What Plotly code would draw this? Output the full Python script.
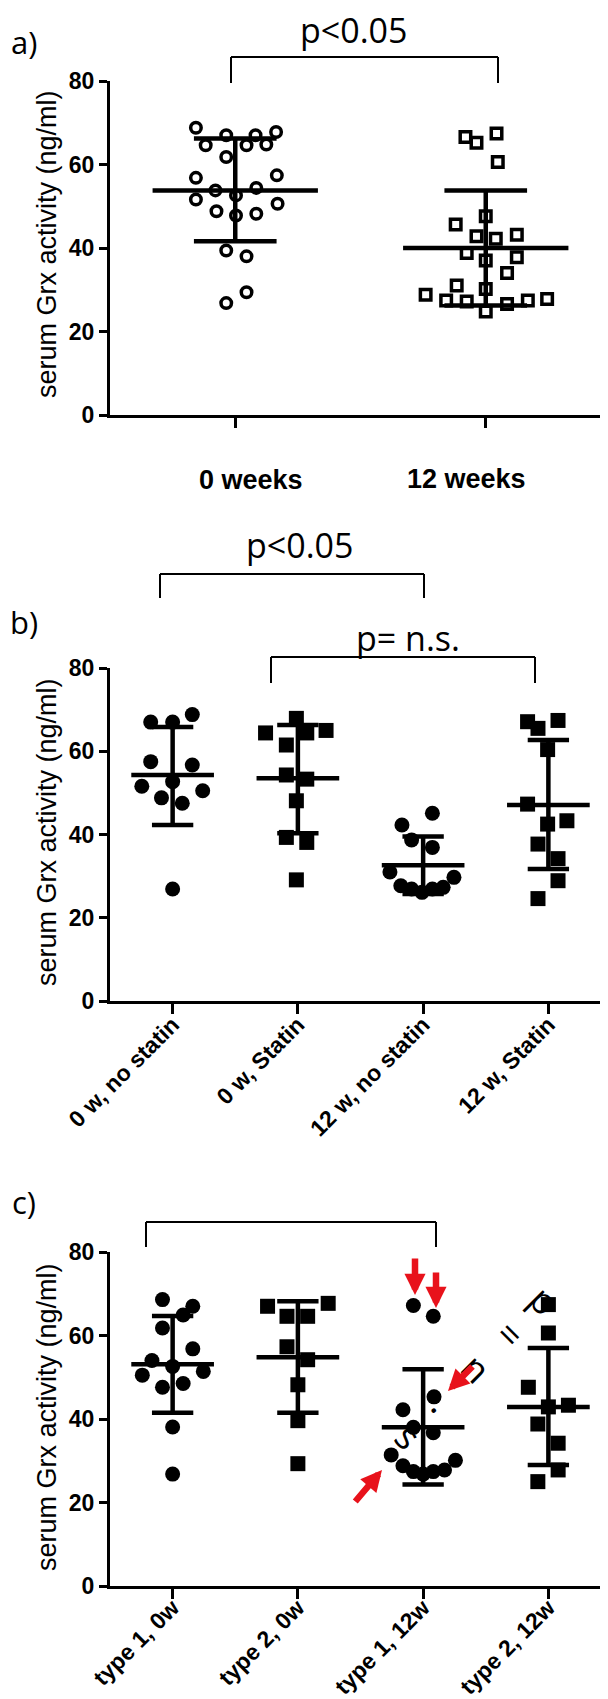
import plotly.graph_objects as go

W, H = 608, 1699

# ---------------- DATA ----------------
# Panel a
a_categories = ["0 weeks", "12 weeks"]
a_w0_values = [68.8, 67.0, 67.0, 67.8, 64.6, 64.6, 64.8, 61.8, 56.8, 57.4, 53.8,
               54.4, 52.6, 51.6, 50.6, 48.8, 47.8, 48.2, 39.4, 38.0, 29.4, 26.8]
a_w0_jitter = [-0.157, -0.036, 0.081, 0.163, -0.118, 0.045, 0.124, -0.036, -0.157, 0.166, -0.079,
               0.084, 0.003, -0.157, 0.169, -0.075, 0.003, 0.084, -0.036, 0.045, 0.045, -0.036]
a_w12_values = [66.6, 65.2, 67.4, 60.6, 47.6, 45.6, 42.8, 42.2, 43.2, 38.8, 37.0,
                37.8, 34.0, 31.0, 30.2, 28.8, 27.4, 27.2, 24.8, 26.6, 27.4, 27.8]
a_w12_jitter = [-0.081, -0.037, 0.043, 0.048, 0.0, -0.12, -0.037, 0.04, 0.124, -0.076, 0.0,
                0.124, 0.085, -0.116, 0.0, -0.24, -0.158, -0.076, 0.0, 0.085, 0.168, 0.245]
a_mean = [53.8, 40.0]
a_upper = [66.2, 53.8]
a_lower = [41.6, 26.2]

# Panel b
b_categories = ["0 w, no statin", "0 w, Statin", "12 w, no statin", "12 w, Statin"]
b_g1_values = [67.0, 67.0, 68.8, 57.5, 56.7, 52.7, 51.6, 50.5, 48.8, 47.5, 26.9]
b_g1_jitter = [-0.175, 0.0, 0.157, -0.175, 0.157, 0.0, -0.246, 0.24, -0.089, 0.077, 0.0]
b_g2_values = [67.9, 64.4, 64.4, 65.0, 61.5, 54.3, 53.3, 48.1, 39.3, 38.1, 29.1]
b_g2_jitter = [-0.012, -0.258, 0.071, 0.225, -0.092, -0.092, 0.071, -0.012, -0.092, 0.071, -0.012]
b_g3_values = [45.1, 42.3, 38.7, 36.9, 31.0, 29.7, 27.7, 26.9, 26.1, 26.9, 27.3]
b_g3_jitter = [0.074, -0.169, -0.092, 0.074, -0.265, 0.246, -0.178, -0.092, -0.009, 0.074, 0.16]
b_g4_values = [67.1, 67.4, 65.5, 60.4, 47.3, 42.5, 43.3, 37.7, 34.2, 28.9, 24.6]
b_g4_jitter = [-0.166, 0.077, -0.083, -0.006, -0.166, -0.006, 0.148, -0.083, 0.077, 0.077, -0.083]
b_mean = [54.3, 53.5, 32.6, 47.1]
b_upper = [65.8, 66.3, 39.5, 62.7]
b_lower = [42.3, 40.3, 25.7, 31.7]

# Panel c
c_categories = ["type 1, 0w", "type 2, 0w", "type 1, 12w", "type 2, 12w"]
c_g1_values = [68.6, 67.0, 64.9, 61.8, 56.8, 54.0, 52.6, 50.5, 51.4, 47.6, 48.5, 38.1, 26.8]
c_g1_jitter = [-0.081, 0.161, 0.084, -0.081, 0.161, -0.165, 0.0, -0.242, 0.245, -0.081, 0.084, 0.0, 0.0]
c_g2_values = [67.0, 67.7, 64.6, 64.6, 57.3, 54.2, 48.2, 39.6, 29.3]
c_g2_jitter = [-0.242, 0.242, -0.087, 0.078, -0.087, 0.078, 0.0, 0.0, 0.0]
c_g3_values = [67.2, 64.6, 45.3, 42.2, 38.0, 36.7, 31.4, 30.1, 28.8, 27.4, 26.8, 27.4, 27.8]
c_g3_jitter = [-0.078, 0.081, 0.087, -0.161, -0.078, 0.081, -0.255, 0.258, -0.161, -0.078, 0.0, 0.081, 0.171]
c_g4_values = [67.4, 60.6, 47.6, 42.9, 43.3, 38.8, 34.2, 27.8, 25.0]
c_g4_jitter = [0.0, 0.0, -0.16, 0.0, 0.16, -0.084, 0.078, 0.078, -0.084]
c_mean = [53.1, 54.8, 38.0, 42.9]
c_upper = [64.7, 68.2, 51.9, 57.0]
c_lower = [41.5, 41.5, 24.3, 29.0]

y_ticks = [0, 20, 40, 60, 80]
y_title = "serum Grx activity (ng/ml)"

# ---------------- HELPERS ----------------
def px(p):
    return p / W


def py(p):
    return 1 - p / H


fig = go.Figure()


def add_points(ax, idx, values, jitter, symbol, size, lw):
    fig.add_trace(go.Scatter(
        x=[idx + j for j in jitter], y=values, mode="markers",
        marker=dict(symbol=symbol, size=size, color="black",
                    line=dict(width=lw, color="black")),
        xaxis="x" + ax, yaxis="y" + ax, showlegend=False, hoverinfo="skip",
        cliponaxis=False))


def add_summary(ax, means, upper, lower):
    xs, ys = [], []
    for i, (m, u, l) in enumerate(zip(means, upper, lower)):
        xs += [i - 0.33, i + 0.33, None, i, i, None,
               i - 0.165, i + 0.165, None, i - 0.165, i + 0.165, None]
        ys += [m, m, None, l, u, None, u, u, None, l, l, None]
    fig.add_trace(go.Scatter(
        x=xs, y=ys, mode="lines", line=dict(color="black", width=4.5),
        xaxis="x" + ax, yaxis="y" + ax, showlegend=False, hoverinfo="skip",
        cliponaxis=False))


# Panel a
add_points("", 0, a_w0_values, a_w0_jitter, "circle-open", 10.5, 3.5)
add_points("", 1, a_w12_values, a_w12_jitter, "square-open", 10.5, 3.5)
add_summary("", a_mean, a_upper, a_lower)
# Panel b
add_points("2", 0, b_g1_values, b_g1_jitter, "circle", 15, 0)
add_points("2", 1, b_g2_values, b_g2_jitter, "square", 15, 0)
add_points("2", 2, b_g3_values, b_g3_jitter, "circle", 15, 0)
add_points("2", 3, b_g4_values, b_g4_jitter, "square", 15, 0)
add_summary("2", b_mean, b_upper, b_lower)
# Panel c
add_points("3", 0, c_g1_values, c_g1_jitter, "circle", 15, 0)
add_points("3", 1, c_g2_values, c_g2_jitter, "square", 15, 0)
add_points("3", 2, c_g3_values, c_g3_jitter, "circle", 15, 0)
add_points("3", 3, c_g4_values, c_g4_jitter, "square", 15, 0)
add_summary("3", c_mean, c_upper, c_lower)

X_DOMAIN = [px(102), px(603)]
tickfont = dict(family="Liberation Sans", size=23, color="black", weight="bold")


def yaxis(top, bottom, anchor):
    return dict(domain=[py(bottom), py(top)], range=[0, 80], tickvals=y_ticks,
                showline=True, linewidth=3, linecolor="black", ticks="outside",
                ticklen=8, tickwidth=3, tickcolor="black", tickfont=tickfont,
                showgrid=False, zeroline=False, anchor=anchor, fixedrange=True,
                automargin=False)


def xaxis(anchor, cats, show_labels, standoff=0):
    return dict(domain=X_DOMAIN, range=[-0.5, len(cats) - 0.5],
                tickvals=list(range(len(cats))), ticktext=cats,
                showticklabels=show_labels, tickangle=-45,
                ticklabelstandoff=standoff,
                tickfont=dict(family="Liberation Sans", size=23, color="black", weight="bold"),
                showline=True, linewidth=3, linecolor="black", ticks="outside",
                ticklen=10, tickwidth=3, tickcolor="black",
                showgrid=False, zeroline=False, anchor=anchor, fixedrange=True,
                automargin=False)


annotations = []
shapes = []


def text(x, y, s, size, family="Open Sans", bold=False, angle=0, xanchor="center"):
    annotations.append(dict(
        x=px(x), y=py(y), xref="paper", yref="paper", text=s, showarrow=False,
        xanchor=xanchor, yanchor="middle", textangle=angle,
        font=dict(family=family, size=size, color="black",
                  weight="bold" if bold else "normal")))


def bracket(x0, x1, ytop, ybot):
    for (xa, ya, xb, yb) in [(x0, ybot, x0, ytop), (x0, ytop, x1, ytop), (x1, ytop, x1, ybot)]:
        shapes.append(dict(type="line", xref="paper", yref="paper",
                           x0=px(xa), y0=py(ya), x1=px(xb), y1=py(yb),
                           line=dict(color="black", width=2)))


def arrow(tipx, tipy, dx, dy):
    annotations.append(dict(
        x=px(tipx), y=py(tipy), xref="paper", yref="paper", text="",
        showarrow=True, ax=dx, ay=dy, axref="pixel", ayref="pixel",
        arrowhead=2, arrowsize=0.65, arrowwidth=6.5, arrowcolor="#e8121b",
        standoff=0, startstandoff=0))


# panel labels
text(16, 34, "a)", 31)
text(16, 614, "b)", 31)
text(16, 1194, "c)", 31)

# significance text and brackets
text(346, 22, "p<0.05", 34)
bracket(223, 490, 49, 75)
text(292, 537, "p<0.05", 34)
bracket(152, 416, 566, 590)
text(400, 630, "p= n.s.", 34)
bracket(263, 527, 649, 675)
bracket(138, 428, 1214, 1239)

# panel a x labels
text(243, 472, a_categories[0], 27, family="Liberation Sans", bold=True)
text(458, 471, a_categories[1], 27, family="Liberation Sans", bold=True)

# y titles
for yc in [236, 824, 1409]:
    text(39, yc, y_title, 27, family="Liberation Sans", angle=-90)

# rotated stray text in panel c
text(469, 1359, "p<br>=<br>n<br>.<br>s", 37, angle=45)

# red arrows
arrow(407, 1287, 0, -38)
arrow(428, 1300, 0, -37)
arrow(440, 1383, 26, -26)
arrow(374, 1462, -28, 33)

fig.update_layout(
    width=W, height=H, autosize=False,
    margin=dict(l=0, r=0, t=0, b=0, autoexpand=False),
    paper_bgcolor="white", plot_bgcolor="white",
    showlegend=False,
    xaxis=xaxis("y", a_categories, False),
    yaxis=yaxis(73, 407, "x"),
    xaxis2=xaxis("y2", b_categories, True, -12),
    yaxis2=yaxis(660, 993, "x2"),
    xaxis3=xaxis("y3", c_categories, True, -14),
    yaxis3=yaxis(1244, 1578, "x3"),
    annotations=annotations,
    shapes=shapes,
)

fig.write_html("out.html")
